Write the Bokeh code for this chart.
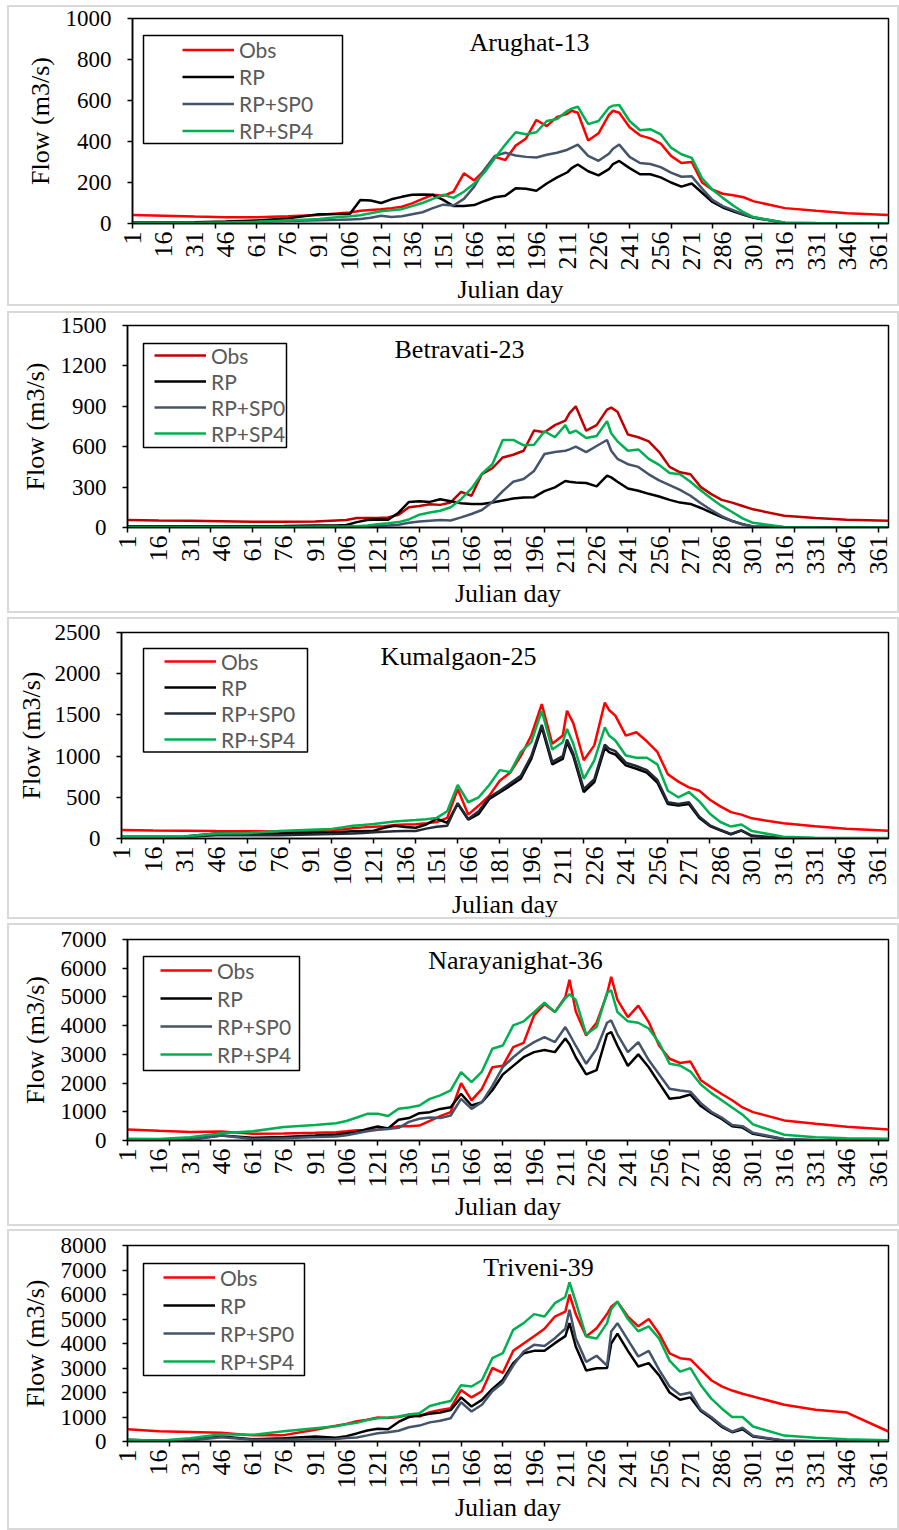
import math
from bokeh.plotting import figure
from bokeh.models import FixedTicker, Legend, LegendItem, BoxAnnotation, Label, Range1d
from bokeh.embed import file_html
from bokeh.resources import INLINE

# ---------------- data ----------------
DAYS = [1, 16, 31, 46, 61, 76, 91, 101, 106, 111, 116, 121, 126, 131, 136, 141, 146, 151, 156, 161,
        166, 171, 176, 181, 186, 191, 196, 201, 206, 211, 213, 216, 221, 226, 231, 233, 236, 241, 246, 251,
        256, 261, 266, 271, 276, 281, 286, 291, 296, 301, 316, 331, 346, 366]

TICK_LABEL_DAYS = list(range(1, 362, 15))
TICK_MARK_DAYS = list(range(1, 362, 20))

SERIES_NAMES = ["Obs", "RP", "RP+SP0", "RP+SP4"]
STATIONS = ["Arughat-13", "Betravati-23", "Kumalgaon-25", "Narayanighat-36", "Triveni-39"]
Y_MAX = [1000, 1500, 2500, 7000, 8000]
Y_STEP = [200, 300, 500, 1000, 1000]

ARUGHAT_OBS = [42, 38, 34, 31, 30, 35, 42, 50, 54, 62, 66, 70, 75, 82, 98, 120, 140, 135, 155, 245,
               210, 260, 325, 310, 380, 415, 505, 475, 520, 535, 550, 540, 405, 440, 530, 550, 540, 470, 430, 415,
               390, 330, 295, 300, 200, 165, 145, 138, 128, 108, 75, 62, 50, 42]
ARUGHAT_RP = [5, 5, 6, 10, 15, 25, 45, 46, 48, 115, 112, 100, 118, 130, 140, 142, 140, 115, 85, 85,
              90, 110, 128, 135, 172, 170, 160, 195, 225, 250, 270, 288, 255, 235, 265, 290, 305, 270, 240, 240,
              225, 200, 180, 195, 150, 105, 78, 60, 42, 28, 3, 1, 0, 0]
ARUGHAT_SP0 = [2, 2, 3, 5, 8, 12, 16, 18, 20, 22, 28, 38, 32, 35, 45, 55, 75, 92, 88, 120,
               180, 265, 330, 345, 332, 325, 322, 335, 345, 360, 370, 385, 330, 306, 340, 365, 385, 325, 295, 290,
               275, 248, 228, 230, 170, 115, 85, 65, 45, 30, 4, 1, 0, 0]
ARUGHAT_SP4 = [3, 3, 3, 5, 8, 15, 22, 32, 35, 40, 50, 60, 65, 70, 85, 100, 120, 140, 125, 155,
               195, 250, 320, 385, 445, 435, 445, 500, 510, 550, 560, 570, 485, 500, 565, 575, 578, 500, 455, 460,
               435, 370, 338, 320, 220, 165, 125, 88, 55, 30, 4, 2, 1, 1]

BETRAVATI_OBS = [55, 52, 50, 47, 42, 42, 45, 52, 55, 70, 70, 70, 75, 95, 150, 160, 172, 168, 186, 265,
                 236, 397, 440, 520, 540, 570, 720, 707, 760, 794, 850, 900, 719, 760, 875, 890, 860, 690, 670, 640,
                 560, 450, 410, 395, 300, 248, 205, 185, 160, 135, 87, 70, 58, 50]
BETRAVATI_RP = [10, 10, 10, 10, 10, 12, 15, 15, 18, 40, 55, 60, 58, 110, 190, 195, 190, 210, 195, 180,
                174, 174, 185, 200, 215, 223, 225, 270, 298, 345, 340, 335, 330, 305, 385, 372, 340, 290, 273, 250,
                230, 205, 185, 175, 145, 110, 78, 48, 25, 8, 1, 0, 0, 0]
BETRAVATI_SP0 = [3, 3, 3, 3, 3, 4, 5, 6, 7, 8, 9, 10, 15, 20, 35, 45, 50, 55, 52, 75,
                 100, 130, 190, 270, 340, 360, 420, 546, 560, 570, 580, 600, 560, 605, 650, 570, 510, 470, 450, 395,
                 350, 315, 280, 236, 180, 130, 85, 48, 22, 7, 1, 0, 0, 0]
BETRAVATI_SP4 = [3, 3, 3, 3, 3, 4, 5, 5, 6, 10, 15, 25, 32, 40, 60, 95, 112, 124, 150, 210,
                 290, 400, 470, 650, 650, 610, 615, 715, 670, 760, 700, 720, 665, 680, 790, 700, 640, 570, 580, 510,
                 465, 405, 395, 340, 275, 215, 160, 115, 68, 35, 3, 1, 0, 0]

KUMALGAON_OBS = [103, 98, 95, 90, 87, 86, 95, 103, 110, 125, 135, 143, 150, 165, 170, 172, 185, 200, 250, 600,
                 290, 400, 520, 700, 800, 1000, 1250, 1630, 1150, 1250, 1550, 1400, 950, 1130, 1650, 1560, 1491, 1249, 1290, 1180,
                 1050, 780, 690, 620, 580, 470, 390, 320, 290, 245, 185, 148, 118, 93]
KUMALGAON_RP = [22, 20, 25, 60, 55, 60, 70, 75, 80, 87, 90, 95, 130, 155, 140, 131, 170, 240, 190, 420,
                230, 300, 480, 560, 640, 725, 967, 1350, 900, 967, 1169, 1000, 564, 685, 1100, 1048, 1020, 887, 846, 800,
                680, 420, 400, 420, 250, 150, 100, 50, 95, 30, 5, 2, 1, 1]
KUMALGAON_SP0 = [15, 15, 18, 40, 40, 40, 48, 55, 58, 60, 68, 75, 82, 88, 90, 91, 120, 143, 155, 430,
                 236, 330, 500, 580, 670, 760, 1000, 1380, 930, 1000, 1200, 1030, 600, 720, 1140, 1090, 1060, 920, 880, 830,
                 710, 440, 420, 440, 265, 160, 105, 55, 100, 35, 6, 2, 1, 1]
KUMALGAON_SP4 = [22, 22, 25, 60, 65, 90, 105, 115, 135, 155, 165, 175, 190, 205, 215, 224, 235, 250, 330, 650,
                 440, 500, 650, 830, 806, 1048, 1169, 1550, 1080, 1169, 1330, 1150, 725, 947, 1350, 1250, 1190, 1007, 980, 980,
                 900, 580, 500, 564, 450, 300, 200, 145, 170, 90, 22, 10, 6, 5]

NARAYANIGHAT_OBS = [383, 340, 300, 314, 232, 245, 270, 290, 320, 360, 370, 383, 430, 500, 500, 520, 680, 850, 990, 2000,
                    1400, 1800, 2550, 2600, 3250, 3400, 4356, 4750, 4472, 5000, 5600, 4500, 3658, 4100, 5100, 5700, 4900, 4298, 4700, 4123,
                    3300, 2846, 2700, 2750, 2100, 1850, 1620, 1400, 1150, 987, 700, 580, 480, 383]
NARAYANIGHAT_RP = [23, 30, 45, 174, 93, 120, 170, 209, 250, 300, 400, 488, 420, 720, 780, 952, 987, 1100, 1161, 1626,
                   1219, 1336, 1750, 2300, 2600, 2900, 3078, 3150, 3078, 3550, 3350, 2900, 2300, 2450, 3700, 3775, 3300, 2600, 3000, 2550,
                   2000, 1452, 1500, 1600, 1200, 950, 750, 500, 450, 232, 40, 10, 5, 3]
NARAYANIGHAT_SP0 = [5, 15, 30, 174, 50, 80, 120, 139, 180, 250, 320, 372, 400, 441, 650, 755, 800, 780, 871, 1452,
                    1103, 1336, 1900, 2555, 2900, 3194, 3426, 3600, 3426, 3950, 3700, 3300, 2671, 3194, 4100, 4181, 3700, 3078, 3426, 2800,
                    2300, 1800, 1742, 1700, 1300, 1000, 800, 540, 500, 267, 50, 15, 8, 5]
NARAYANIGHAT_SP4 = [58, 50, 110, 255, 320, 470, 540, 604, 680, 800, 929, 929, 850, 1103, 1150, 1219, 1450, 1570, 1742, 2381,
                    2033, 2400, 3194, 3310, 4007, 4150, 4472, 4800, 4472, 4950, 5100, 4900, 3700, 3950, 5150, 5226, 4472, 4150, 4100, 3900,
                    3400, 2671, 2613, 2400, 1950, 1650, 1400, 1150, 900, 560, 200, 110, 80, 58]

TRIVENI_OBS = [503, 420, 390, 360, 250, 260, 480, 639, 720, 830, 884, 980, 960, 1000, 1088, 1020, 1200, 1290, 1360, 2100,
               1800, 2050, 3000, 2800, 3700, 4000, 4300, 4600, 5100, 5300, 6000, 5200, 4286, 4626, 5200, 5500, 5700, 5100, 4700, 5000,
               4400, 3600, 3401, 3350, 2925, 2500, 2250, 2080, 1950, 1837, 1497, 1300, 1180, 408]
TRIVENI_RP = [68, 27, 68, 204, 95, 136, 200, 150, 220, 330, 449, 517, 503, 800, 1000, 1061, 1130, 1180, 1280, 1800,
              1429, 1700, 2150, 2517, 3200, 3600, 3700, 3700, 4014, 4300, 4830, 3877, 2900, 2993, 3000, 4000, 4400, 3700, 3061, 3200,
              2700, 2000, 1701, 1800, 1250, 950, 600, 380, 500, 204, 30, 10, 5, 3]
TRIVENI_SP0 = [27, 30, 41, 177, 68, 68, 90, 100, 140, 163, 250, 340, 380, 440, 580, 650, 780, 850, 950, 1600,
               1224, 1500, 2050, 2400, 3100, 3673, 3945, 3900, 4218, 4600, 5374, 4218, 3250, 3500, 3100, 4490, 4830, 4150, 3469, 3700,
               2925, 2245, 1905, 2000, 1293, 1000, 650, 400, 560, 231, 45, 15, 8, 5]
TRIVENI_SP4 = [68, 30, 130, 299, 272, 420, 540, 620, 700, 760, 880, 952, 980, 1020, 1100, 1150, 1450, 1560, 1650, 2300,
               2245, 2500, 3400, 3605, 4558, 4830, 5200, 5100, 5646, 5900, 6500, 5700, 4286, 4200, 4830, 5400, 5714, 5000, 4500, 4700,
               4200, 3300, 2850, 2993, 2300, 1750, 1350, 1000, 1000, 612, 240, 150, 95, 54]

SERIES = [
    [ARUGHAT_OBS, ARUGHAT_RP, ARUGHAT_SP0, ARUGHAT_SP4],
    [BETRAVATI_OBS, BETRAVATI_RP, BETRAVATI_SP0, BETRAVATI_SP4],
    [KUMALGAON_OBS, KUMALGAON_RP, KUMALGAON_SP0, KUMALGAON_SP4],
    [NARAYANIGHAT_OBS, NARAYANIGHAT_RP, NARAYANIGHAT_SP0, NARAYANIGHAT_SP4],
    [TRIVENI_OBS, TRIVENI_RP, TRIVENI_SP0, TRIVENI_SP4],
]

# ---------------- layout / style (page pixels) ----------------
PAGE_W = 899
FRAME_RIGHT = 888
PANEL_LEFT = 7
BORDER = 2
LAYOUT = [
    dict(gap=5, height=301, frame_top=18, frame_bottom=223, frame_left=132, ylab_standoff=8,
         box=(143, 35, 342, 143), line_x=182, row0=49, pitch=27, title=(529, 42),
         colors=["#ff0000", "#000000", "#44546a", "#00b050"]),
    dict(gap=5, height=302, frame_top=325, frame_bottom=527, frame_left=127, ylab_standoff=8,
         box=(143, 343, 286, 447), line_x=154, row0=355, pitch=26, title=(459, 349),
         colors=["#c00000", "#000000", "#44546a", "#00b050"]),
    dict(gap=4, height=302, frame_top=632, frame_bottom=839, frame_left=121, ylab_standoff=6,
         box=(143, 648, 307, 752), line_x=164, row0=662, pitch=26, title=(458, 656),
         colors=["#ff0000", "#000000", "#222a35", "#00b050"]),
    dict(gap=4, height=303, frame_top=939, frame_bottom=1140, frame_left=127, ylab_standoff=8,
         box=(143, 956, 299, 1070), line_x=160, row0=970, pitch=28, title=(515, 960),
         colors=["#ff0000", "#000000", "#44546a", "#00b050"]),
    dict(gap=3, height=301, frame_top=1245, frame_bottom=1441, frame_left=127, ylab_standoff=8,
         box=(143, 1263, 304, 1375), line_x=163, row0=1277, pitch=28, title=(538, 1267),
         colors=["#ff0000", "#000000", "#44546a", "#00b050"]),
]

SERIF = "Liberation Serif"
SANS = "Lato"

figs = []
page_y = 0
for station, ymax, ystep, series, L in zip(STATIONS, Y_MAX, Y_STEP, SERIES, LAYOUT):
    elem_top = page_y + L["gap"]
    canvas_top = elem_top + BORDER
    canvas_left = PANEL_LEFT + BORDER
    width = PAGE_W - PANEL_LEFT
    height = L["height"]
    fl, ft, fb = L["frame_left"], L["frame_top"], L["frame_bottom"]

    p = figure(width=width, height=height, output_backend="svg", toolbar_location=None,
               x_range=Range1d(1, 366), y_range=Range1d(0, ymax),
               min_border_left=fl - canvas_left, min_border_right=canvas_left + width - FRAME_RIGHT,
               min_border_top=ft - canvas_top, min_border_bottom=canvas_top + height - fb,
               background_fill_color="white", border_fill_color="white")
    p.margin = (L["gap"], 0, 0, PANEL_LEFT)
    p.styles = {"border": f"{BORDER}px solid #d9d9d9"}
    p.outline_line_color = "black"
    p.outline_line_width = 1.5
    p.xgrid.visible = False
    p.ygrid.visible = False

    # x axis: labels every 15 days, tick marks every 20 days
    xa = p.xaxis[0]
    xa.ticker = FixedTicker(ticks=TICK_LABEL_DAYS, minor_ticks=TICK_MARK_DAYS)
    xa.major_tick_out = 0
    xa.major_tick_in = 0
    xa.minor_tick_out = 5
    xa.minor_tick_in = 0
    xa.minor_tick_line_color = "black"
    xa.minor_tick_line_width = 1.5
    xa.major_label_orientation = math.pi / 2
    xa.major_label_standoff = 3
    xa.major_label_text_font_size = "26px"
    xa.axis_label = "Julian day"
    xa.axis_label_standoff = 1

    ya = p.yaxis[0]
    ya.ticker = FixedTicker(ticks=list(range(0, ymax + 1, ystep)))
    ya.major_tick_out = 5
    ya.major_tick_in = 0
    ya.minor_tick_out = 0
    ya.minor_tick_in = 0
    ya.major_label_standoff = 16
    ya.major_label_text_font_size = "23px"
    ya.axis_label = "Flow (m3/s)"
    ya.axis_label_standoff = L["ylab_standoff"]

    for ax in (xa, ya):
        ax.axis_line_color = "black"
        ax.axis_line_width = 1.5
        ax.major_tick_line_color = "black"
        ax.major_tick_line_width = 1.5
        ax.major_label_text_font = SERIF
        ax.major_label_text_color = "black"
        ax.axis_label_text_font = SERIF
        ax.axis_label_text_font_size = "26px"
        ax.axis_label_text_font_style = "normal"
        ax.axis_label_text_color = "black"

    renderers = []
    for vals, color in zip(series, L["colors"]):
        r = p.line(DAYS, vals, line_color=color, line_width=2.5)
        renderers.append(r)

    # helpers: page px -> data
    def to_x(px, fl=fl):
        return 1 + (px - fl) * 365.0 / (FRAME_RIGHT - fl)

    def to_y(py, ft=ft, fb=fb, ymax=ymax):
        return ymax * (fb - py) / float(fb - ft)

    # legend (items) + its frame
    pad = 2
    pitch = L["pitch"]
    leg_top = L["row0"] - pitch / 2.0 - pad
    leg_h = 2 * pad + 4 * pitch
    legend = Legend(items=[LegendItem(label=n, renderers=[r]) for n, r in zip(SERIES_NAMES, renderers)],
                    location=(L["line_x"] - pad - fl, fb - (leg_top + leg_h)),
                    padding=pad, spacing=0, margin=0,
                    glyph_width=52, glyph_height=pitch, label_height=pitch, label_standoff=5,
                    label_text_font=SANS, label_text_font_size="21px", label_text_color="#595959",
                    border_line_alpha=0, background_fill_alpha=0)
    p.add_layout(legend, "center")

    bx0, by0, bx1, by1 = L["box"]
    p.add_layout(BoxAnnotation(left=to_x(bx0), right=to_x(bx1), top=to_y(by0), bottom=to_y(by1),
                               fill_alpha=0, line_color="black", line_width=1.5, line_alpha=1))

    tx, ty = L["title"]
    p.add_layout(Label(x=to_x(tx), y=to_y(ty), text=station, text_align="center", text_baseline="middle",
                       text_font=SERIF, text_font_size="26px", text_color="black"))

    figs.append(p)
    page_y = elem_top + height

# each panel is its own root so that Bokeh does not align the frames of the five plots
open("out.html", "w").write(file_html(figs, INLINE))
